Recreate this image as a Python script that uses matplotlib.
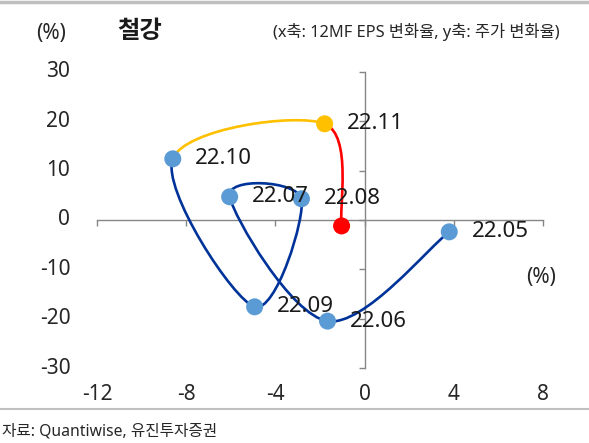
import matplotlib.pyplot as plt
import numpy as np
from matplotlib.path import Path
from matplotlib.patches import PathPatch

plt.rcParams['font.family'] = ['Noto Sans', 'Noto Sans CJK KR', 'DejaVu Sans']

# 12MF EPS change (x) vs share price change (y), %
months = ['22.05', '22.06', '22.07', '22.08', '22.09', '22.10', '22.11', '']
eps_chg = [3.8, -1.66, -6.05, -2.83, -4.93, -8.6, -1.79, -1.03]
price_chg = [-2.4, -20.5, 4.7, 4.3, -17.6, 12.4, 19.5, -1.2]

xticks = [-12, -8, -4, 0, 4, 8]
yticks = [-30, -20, -10, 0, 10, 20, 30]

dark_blue = '#003399'
light_blue = '#5B9BD5'
yellow = '#FFC000'
red = '#FF0000'
seg_colors = [dark_blue] * 5 + [yellow, red]
pt_colors = [light_blue] * 6 + [yellow, red]

fig = plt.figure(figsize=(5.89, 4.43), dpi=100)
ax = fig.add_axes([0.1647, 0.1693, 0.757, 0.6682])
ax.set_xlim(-12, 8)
ax.set_ylim(-30, 30)

# axes crossing at the origin
for s in ['top', 'right']:
    ax.spines[s].set_visible(False)
for s in ['left', 'bottom']:
    ax.spines[s].set_position(('data', 0))
    ax.spines[s].set_color('#868686')
    ax.spines[s].set_linewidth(1.0)
ax.set_xticks(xticks)
ax.set_yticks(yticks)
ax.tick_params(length=4, width=1.0, color='#868686', direction='out',
               labelbottom=False, labelleft=False)

# tick labels on the outer edge
for v in yticks:
    ax.text(-0.06, v, str(v), transform=ax.get_yaxis_transform(),
            ha='right', va='center', fontsize=15, color='#262626')
for v in xticks:
    ax.text(v, -0.09, str(v), transform=ax.get_xaxis_transform(),
            ha='center', va='center', fontsize=15, color='#262626')

# smoothed path (Excel-like), built in axes-pixel-ish units
sx, sy = 446 / 20.0, 296 / 60.0
P = np.column_stack([np.array(eps_chg) * sx, np.array(price_chg) * sy])
n = len(P)
for i in range(n - 1):
    p0 = P[max(i - 1, 0)]
    p1 = P[i]
    p2 = P[i + 1]
    p3 = P[min(i + 2, n - 1)]
    c1 = p1 + (p2 - p0) / 6.0
    c2 = p2 - (p3 - p1) / 6.0
    verts = np.array([p1, c1, c2, p2]) / [sx, sy]
    path = Path(verts, [Path.MOVETO, Path.CURVE4, Path.CURVE4, Path.CURVE4])
    ax.add_patch(PathPatch(path, facecolor='none', edgecolor=seg_colors[i],
                           lw=1.9, capstyle='round', zorder=3))

ax.scatter(eps_chg, price_chg, s=150, c=pt_colors, zorder=4, linewidths=0)

for x, y, m in zip(eps_chg, price_chg, months):
    if m:
        ax.annotate(m, (x, y), xytext=(16, 0), textcoords='offset points',
                    ha='left', va='center', fontsize=16, color='#1a1a1a',
                    zorder=5)

ax.text(0.995, 0.307, '(%)', transform=ax.transAxes, ha='center', va='center',
        fontsize=15, color='#262626')

# header
fig.text(0.087, 0.925, '(%)', ha='center', va='center', fontsize=15,
         color='#262626')
fig.text(0.237, 0.927, '철강', ha='center', va='center', fontsize=17.5,
         fontweight='bold', color='#1a1a1a')
fig.text(0.95, 0.928, '(x축: 12MF EPS 변화율, y축: 주가 변화율)', ha='right',
         va='center', fontsize=11.8, color='#262626')
fig.add_artist(plt.Line2D([0, 1], [0.995, 0.995], color='#BFBFBF', lw=2.5))
fig.add_artist(plt.Line2D([0, 1], [0.077, 0.077], color='#BFBFBF', lw=1.5))
fig.text(0.003, 0.025, '자료: Quantiwise, 유진투자증권', ha='left', va='center',
         fontsize=11.3, color='#262626')

fig.savefig('out.png', dpi=100)
